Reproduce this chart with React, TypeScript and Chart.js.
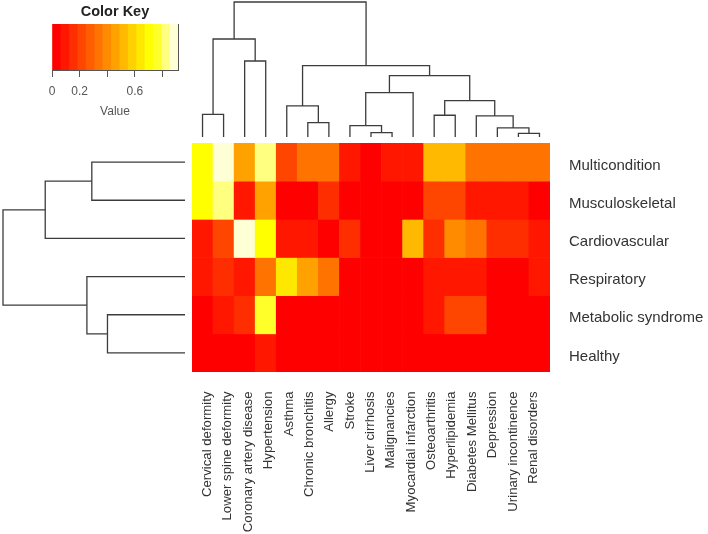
import React, { useEffect, useRef } from "react";
import { Chart, registerables } from "chart.js";
Chart.register(...registerables);

// ---------- data ----------
const rowLabels = ["Multicondition", "Musculoskeletal", "Cardiovascular", "Respiratory", "Metabolic syndrome", "Healthy"];
const colLabels = [
  "Cervical deformity", "Lower spine deformity", "Coronary artery disease", "Hypertension", "Asthma",
  "Chronic bronchitis", "Allergy", "Stroke", "Liver cirrhosis", "Malignancies", "Myocardial infarction",
  "Osteoarthritis", "Hyperlipidemia", "Diabetes Mellitus", "Depression", "Urinary incontinence", "Renal disorders",
];
const multicondition = [0.70, 0.88, 0.46, 0.82, 0.21, 0.31, 0.31, 0.09, 0.03, 0.09, 0.09, 0.50, 0.50, 0.33, 0.33, 0.33, 0.33];
const musculoskeletal = [0.70, 0.82, 0.09, 0.46, 0.02, 0.02, 0.17, 0.02, 0.02, 0.02, 0.02, 0.21, 0.21, 0.10, 0.10, 0.10, 0.02];
const cardiovascular = [0.10, 0.21, 0.88, 0.72, 0.09, 0.09, 0.03, 0.17, 0.02, 0.02, 0.50, 0.17, 0.38, 0.31, 0.17, 0.17, 0.09];
const respiratory = [0.09, 0.15, 0.08, 0.33, 0.64, 0.46, 0.33, 0.02, 0.02, 0.02, 0.02, 0.09, 0.09, 0.09, 0.02, 0.02, 0.09];
const metabolicSyndrome = [0.02, 0.09, 0.17, 0.76, 0.02, 0.02, 0.02, 0.02, 0.02, 0.02, 0.02, 0.09, 0.21, 0.21, 0.02, 0.02, 0.02];
const healthy = [0.02, 0.02, 0.02, 0.09, 0.02, 0.02, 0.02, 0.02, 0.02, 0.02, 0.02, 0.02, 0.02, 0.02, 0.02, 0.02, 0.02];
const heatValues = [multicondition, musculoskeletal, cardiovascular, respiratory, metabolicSyndrome, healthy];

// colour key
const keyMin = 0;
const keyMax = 0.913;
const keyBinCount = 15;
const keyTicks = [0, 0.2, 0.4, 0.6, 0.8];
const keyTickLabels = ["0", "0.2", "", "0.6", ""];

// dendrograms: [childA, childB, height]; ids < n are leaves, n + k is merge k
const colMerges: number[][] = [
  [15, 16, 0.027], [14, 17, 0.067], [13, 18, 0.156], [11, 12, 0.161], [20, 19, 0.269],
  [8, 9, 0.032], [7, 22, 0.084], [23, 10, 0.328], [24, 21, 0.454], [5, 6, 0.106],
  [4, 26, 0.23], [27, 25, 0.528], [0, 1, 0.168], [2, 3, 0.563], [29, 30, 0.726], [31, 28, 1.0],
];
const rowMerges: number[][] = [
  [0, 1, 0.512], [6, 2, 0.768], [4, 5, 0.426], [3, 8, 0.539], [7, 9, 1.0],
];

// ---------- helpers ----------
const FONT = "'Liberation Sans', Arial, sans-serif";

function heatPalette(n: number): string[] {
  const j = Math.floor(n / 4);
  const i = n - j;
  const out: string[] = [];
  for (let k = 0; k < i; k++) out.push(`rgb(255,${Math.round((255 * k) / (i - 1))},0)`);
  for (let t = 0; t < j; t++) {
    const s = j === 1 ? 0.5 : 1 - 1 / (2 * j) - (t * (1 - 1 / j)) / (j - 1);
    out.push(`rgb(255,255,${Math.round(255 * (1 - s))})`);
  }
  return out;
}
const palette = heatPalette(keyBinCount);
function valueColor(v: number): string {
  const b = Math.max(0, Math.min(keyBinCount - 1, Math.floor(((v - keyMin) / (keyMax - keyMin)) * keyBinCount)));
  return palette[b];
}

function dendroSegments(n: number, merges: number[][]) {
  const pos: number[] = [];
  const h: number[] = [];
  for (let i = 0; i < n; i++) { pos.push(i + 0.5); h.push(0); }
  const segs: { p: number; h: number }[][] = [];
  merges.forEach(([a, b, hh]) => {
    pos.push((pos[a] + pos[b]) / 2);
    h.push(hh);
    segs.push([
      { p: pos[a], h: h[a] }, { p: pos[a], h: hh }, { p: pos[b], h: hh }, { p: pos[b], h: h[b] },
    ]);
  });
  return segs;
}

const LINE = "#3c3c3c";

function useChart(ref: React.RefObject<HTMLCanvasElement | null>, make: () => any) {
  useEffect(() => {
    if (!ref.current) return;
    const c = new Chart(ref.current, make());
    return () => c.destroy();
  }, []);
}

export default function App() {
  const heatRef = useRef<HTMLCanvasElement>(null);
  const topRef = useRef<HTMLCanvasElement>(null);
  const leftRef = useRef<HTMLCanvasElement>(null);
  const keyRef = useRef<HTMLCanvasElement>(null);

  useChart(heatRef, () => ({
    type: "bar",
    data: {
      labels: colLabels,
      datasets: rowLabels.map((name, r) => ({
        label: name,
        data: colLabels.map(() => [r, r + 1]),
        backgroundColor: heatValues[r].map(valueColor),
        borderWidth: 0,
        barPercentage: 1,
        categoryPercentage: 1,
        grouped: false,
        xAxisID: "x",
        yAxisID: "y",
      })),
    },
    options: {
      animation: false,
      responsive: false,
      layout: { padding: { left: 192, top: 143, right: 0, bottom: 0 } },
      plugins: { legend: { display: false }, tooltip: { enabled: false }, title: { display: false } },
      scales: {
        x: { type: "category", display: false },
        xl: {
          type: "linear",
          position: "bottom",
          bounds: "data",
          offset: false,
          min: -0.761,
          max: 16.82,
          afterBuildTicks: (s: any) => { s.ticks = colLabels.map((_, i) => ({ value: i })); },
          ticks: {
            autoSkip: false,
            minRotation: 90,
            maxRotation: 90,
            padding: 0,
            callback: (_v: any, i: number) => colLabels[i],
            font: { family: FONT, size: 13.2 },
            color: "#333",
          },
          grid: { display: true, offset: false, drawOnChartArea: false, drawTicks: true, tickLength: 19.5, color: "rgba(0,0,0,0)" },
          border: { display: false },
          afterFit: (s: any) => { s.height = 162; s.paddingLeft = 0; s.paddingRight = 0; },
        },
        y: {
          type: "linear",
          position: "right",
          min: 0,
          max: 6,
          reverse: true,
          afterBuildTicks: (s: any) => { s.ticks = rowLabels.map((_, r) => ({ value: r + 0.5 })); },
          ticks: {
            autoSkip: false,
            padding: 19,
            labelOffset: 3.5,
            callback: (_v: any, i: number) => rowLabels[i],
            font: { family: FONT, size: 15 },
            color: "#333",
          },
          grid: { display: false, drawTicks: false },
          border: { display: false },
          afterFit: (s: any) => { s.width = 158; },
        },
      },
    },
  }));

  useChart(topRef, () => ({
    type: "scatter",
    data: {
      datasets: dendroSegments(colLabels.length, colMerges).map((seg) => ({
        data: seg.map((q) => ({ x: q.p, y: q.h })),
        showLine: true,
        borderColor: LINE,
        borderWidth: 1.3,
        pointRadius: 0,
        tension: 0,
        clip: false,
      })),
    },
    options: {
      animation: false,
      responsive: false,
      layout: { padding: { left: 0, right: 0, top: 2, bottom: 3 } },
      plugins: { legend: { display: false }, tooltip: { enabled: false } },
      scales: {
        x: { type: "linear", min: 0, max: colLabels.length, display: false },
        y: { type: "linear", min: 0, max: 1, display: false },
      },
    },
  }));

  useChart(leftRef, () => ({
    type: "scatter",
    data: {
      datasets: dendroSegments(rowLabels.length, rowMerges).map((seg) => ({
        data: seg.map((q) => ({ x: q.h, y: q.p })),
        showLine: true,
        borderColor: LINE,
        borderWidth: 1.3,
        pointRadius: 0,
        tension: 0,
        clip: false,
      })),
    },
    options: {
      animation: false,
      responsive: false,
      layout: { padding: { left: 3, right: 5, top: 0, bottom: 0 } },
      plugins: { legend: { display: false }, tooltip: { enabled: false } },
      scales: {
        x: { type: "linear", min: 0, max: 1, reverse: true, display: false },
        y: { type: "linear", min: 0, max: rowLabels.length, reverse: true, display: false },
      },
    },
  }));

  useChart(keyRef, () => {
    const w = (keyMax - keyMin) / keyBinCount;
    return {
      type: "bar",
      data: {
        labels: ["key"],
        datasets: palette.map((c, k) => ({
          data: [[keyMin + k * w, keyMin + (k + 1) * w]],
          backgroundColor: c,
          borderWidth: 0,
          barPercentage: 1,
          categoryPercentage: 1,
          grouped: false,
        })),
      },
      options: {
        animation: false,
        responsive: false,
        indexAxis: "y",
        layout: { padding: { left: 52, right: 50, top: 0, bottom: 0 } },
        plugins: {
          legend: { display: false },
          tooltip: { enabled: false },
          title: {
            display: true,
            text: "Color Key",
            font: { family: FONT, size: 14.5, weight: "bold" },
            color: "#222",
            padding: { top: 3.3, bottom: 3.3 },
          },
        },
        scales: {
          x: {
            type: "linear",
            position: "bottom",
            bounds: "data",
            offset: false,
            min: keyMin,
            max: keyMax,
            afterBuildTicks: (s: any) => { s.ticks = keyTicks.map((v) => ({ value: v })); },
            ticks: {
              autoSkip: false,
              maxRotation: 0,
              padding: 7.8,
              callback: (_v: any, i: number) => keyTickLabels[i],
              font: { family: FONT, size: 12 },
              color: "#555",
            },
            grid: { display: true, drawOnChartArea: false, drawTicks: true, tickLength: 7, color: "#555" },
            border: { display: true, color: "#555" },
            title: { display: true, text: "Value", font: { family: FONT, size: 12 }, color: "#555", padding: { top: 0, bottom: 4.8 } },
            afterFit: (s: any) => { s.height = 54; },
          },
          y: {
            type: "category",
            position: "right",
            ticks: { display: false },
            grid: { display: false, drawTicks: false },
            border: { display: true, color: "#555" },
            afterFit: (s: any) => { s.width = 0; },
          },
        },
      },
    };
  });

  const abs = (l: number, t: number, w: number, h: number): React.CSSProperties => ({
    position: "absolute", left: l, top: t, width: w, height: h,
  });

  return (
    <div style={{ position: "absolute", left: 0, top: 0, width: 708, height: 534, background: "#fff" }}>
      <canvas ref={heatRef} width={708} height={534} style={abs(0, 0, 708, 534)} />
      <canvas ref={topRef} width={358} height={140} style={abs(192, 0, 358, 140)} />
      <canvas ref={leftRef} width={190} height={229} style={abs(0, 143, 190, 229)} />
      <canvas ref={keyRef} width={228} height={124} style={abs(0, 0, 228, 124)} />
    </div>
  );
}
